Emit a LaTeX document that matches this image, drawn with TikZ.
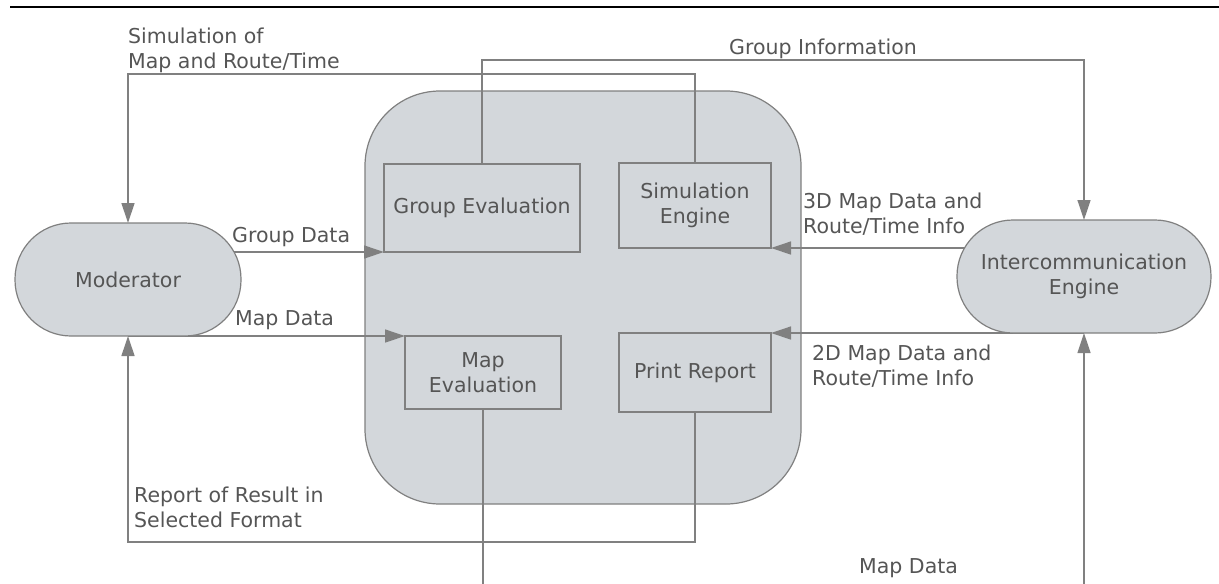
\documentclass[tikz,border=0pt]{standalone}
\usepackage{fontspec}
\setmainfont{DejaVu Sans}
\usetikzlibrary{arrows.meta, calc}

\definecolor{boxfill}{HTML}{D3D7DB}
\definecolor{linegray}{HTML}{808080}
\definecolor{textgray}{HTML}{555555}

\pgfdeclarelayer{back}
\pgfsetlayers{back,main}

\begin{document}
\begin{tikzpicture}[x=1pt, y=1pt,
	every node/.style={font=\fontsize{20.5}{25}\selectfont, text=textgray},
	proc/.style={draw=linegray, fill=boxfill, line width=1.2pt, inner sep=0pt, outer sep=0pt, align=center},
	term/.style={proc, rounded corners=56pt},
	flow/.style={draw=linegray, line width=1.3pt, -{Triangle[length=20pt,width=13pt]}},
	lbl/.style={inner sep=0pt, align=left, anchor=north west}]

	\useasboundingbox (0,0) rectangle (1219,-584);
	\draw[line width=2pt] (10,-7) -- (1219,-7);

	\coordinate (simlevel) at (0,-74);
	\coordinate (grplevel) at (0,-60);
	\coordinate (replevel) at (0,-542);
	\coordinate (maplevel) at (0,-640);

	\begin{pgfonlayer}{back}
	\node[proc, rounded corners=75pt, minimum width=436pt, minimum height=413pt] (core) at (583,-297.5) {};
	\end{pgfonlayer}

	\node[proc, minimum width=196pt, minimum height=88pt] (groupeval) at (482,-208) {Group Evaluation};
	\node[proc, minimum width=152pt, minimum height=85pt] (simeng) at (695,-205.5) {Simulation\\Engine};
	\node[proc, minimum width=156pt, minimum height=73pt] (mapeval) at (483,-372.5) {Map\\Evaluation};
	\node[proc, minimum width=152pt, minimum height=79pt] (printrep) at (695,-372.5) {Print Report};

	\node[term, minimum width=226pt, minimum height=113pt] (moderator) at (128,-279.5) {Moderator};
	\node[term, minimum width=254pt, minimum height=113pt] (intercom) at (1084,-276.5) {Intercommunication\\Engine};

	\begin{pgfonlayer}{back}
	\draw[flow] (simeng.north) -- (simeng.north |- simlevel) -| (moderator.north);
	\draw[flow] (groupeval.north) -- (groupeval.north |- grplevel) -| (intercom.north);
	\draw[flow] (moderator.center |- groupeval.south west) -- (groupeval.south west);
	\draw[flow] (moderator.south) -- (mapeval.north west);
	\draw[flow] (intercom.center |- simeng.south east) -- (simeng.south east);
	\draw[flow] (intercom.south) -- (printrep.north east);
	\draw[flow] (printrep.south) -- (printrep.south |- replevel) -| (moderator.south);
	\draw[flow] (mapeval.south) -- (mapeval.south |- maplevel) -| (intercom.south);
	\end{pgfonlayer}

	\node[lbl] (simlbl) at (128,-27.4) {Simulation of\\Map and Route/Time};
	\node[inner sep=0pt, anchor=base west] (grplbl) at (729,-54) {Group Information};
	\node[inner sep=0pt, anchor=base west] (gdatalbl) at (232,-242) {Group Data};
	\node[inner sep=0pt, anchor=base west] (mdatalbl) at (235,-325) {Map Data};
	\node[lbl] (threedlbl) at (803,-192.4) {3D Map Data and\\Route/Time Info};
	\node[lbl] (twodlbl) at (812,-344.4) {2D Map Data and\\Route/Time Info};
	\node[lbl] (replbl) at (134,-486.4) {Report of Result in\\Selected Format};
	\node[inner sep=0pt, anchor=base west] (bottomlbl) at (859,-573) {Map Data};
\end{tikzpicture}
\end{document}
